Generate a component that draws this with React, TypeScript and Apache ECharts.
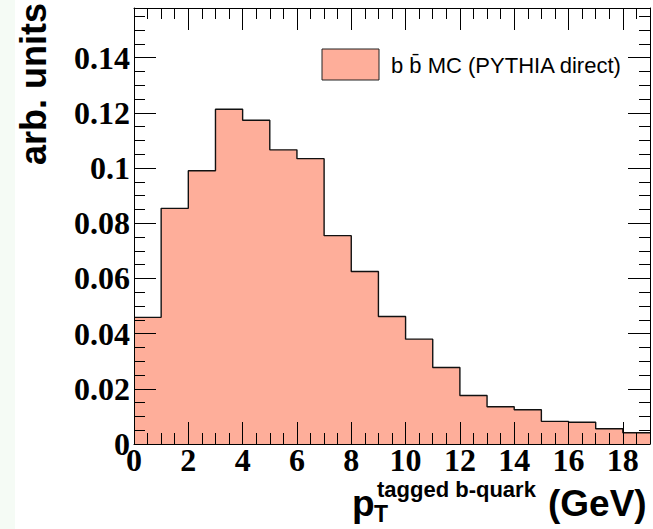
import React, { useEffect, useRef } from "react";
import * as echarts from "echarts";

// Histogram bin lower edges (GeV) and contents (arb. units)
const binEdges = [0, 1, 2, 3, 4, 5, 6, 7, 8, 9, 10, 11, 12, 13, 14, 15, 16, 17, 18, 19];
const binContents = [
  0.0459, 0.0854, 0.099, 0.1213, 0.1173, 0.1066, 0.1034, 0.0755, 0.0625, 0.0462,
  0.038, 0.0277, 0.0176, 0.0135, 0.0124, 0.0082, 0.0079, 0.0055, 0.0041,
];
const xTickLabels = [0, 2, 4, 6, 8, 10, 12, 14, 16, 18];
const yTickLabels = [0, 0.02, 0.04, 0.06, 0.08, 0.1, 0.12, 0.14];
const seriesName = "b b\u0304 MC (PYTHIA direct)";

const X_MIN = 0;
const X_MAX = 19;
const Y_MIN = 0;
const Y_MAX = 0.158;

const FILL = "#feae9a";
const SERIF = "'Liberation Serif', 'Times New Roman', serif";
const SANS = "'Liberation Sans', Arial, Helvetica, sans-serif";

function minorValues(min: number, max: number, step: number, majorStep: number) {
  const out: number[] = [];
  const n = Math.round((max - min) / step);
  for (let i = 0; i <= n; i++) {
    const v = +(min + i * step).toFixed(6);
    const r = v / majorStep;
    if (Math.abs(r - Math.round(r)) > 1e-6) out.push(v);
  }
  return out;
}

export default function App() {
  const ref = useRef<HTMLDivElement>(null);

  useEffect(() => {
    document.body.style.margin = "0";
    if (!ref.current) return;
    const chart = echarts.init(ref.current, undefined, { renderer: "svg" });

    const xMinor = minorValues(X_MIN, X_MAX, 0.5, 2);
    const yMinor = minorValues(Y_MIN, 0.155, 0.005, 0.02);

    const stepData = binEdges.map((e, i) => [e, binContents[Math.min(i, binContents.length - 1)]]);

    const black = { color: "#000", width: 1 };
    const baseX = { type: "value", min: X_MIN, max: X_MAX, splitLine: { show: false }, z: 5 };
    const baseY = { type: "value", min: Y_MIN, max: Y_MAX, splitLine: { show: false }, z: 5 };
    const frameLine = { show: true, onZero: false, lineStyle: black };
    const noLine = { show: false, onZero: false };

    chart.setOption({
      animation: false,
      backgroundColor: "#fff",
      grid: { left: 134, top: 8, right: 3, bottom: 85, containLabel: false },
      xAxis: [
        {
          ...baseX,
          position: "bottom",
          axisLine: frameLine,
          axisTick: { show: true, inside: true, length: 22, customValues: xTickLabels, lineStyle: black },
          axisLabel: {
            show: true,
            customValues: xTickLabels,
            fontFamily: SERIF,
            fontWeight: "bold",
            fontSize: 32,
            color: "#000",
            margin: 0,
          },
        },
        {
          ...baseX,
          position: "bottom",
          axisLine: noLine,
          axisTick: { show: true, inside: true, length: 11, customValues: xMinor, lineStyle: black },
          axisLabel: { show: false },
        },
        {
          ...baseX,
          position: "top",
          axisLine: frameLine,
          axisTick: { show: true, inside: true, length: 22, customValues: xTickLabels, lineStyle: black },
          axisLabel: { show: false },
        },
        {
          ...baseX,
          position: "top",
          axisLine: noLine,
          axisTick: { show: true, inside: true, length: 11, customValues: xMinor, lineStyle: black },
          axisLabel: { show: false },
        },
      ],
      yAxis: [
        {
          ...baseY,
          position: "left",
          axisLine: frameLine,
          axisTick: { show: true, inside: true, length: 22, customValues: yTickLabels, lineStyle: black },
          axisLabel: {
            show: true,
            customValues: yTickLabels,
            fontFamily: SERIF,
            fontWeight: "bold",
            fontSize: 32,
            color: "#000",
            margin: 4,
            formatter: (v: number) => String(+v.toFixed(3)),
          },
        },
        {
          ...baseY,
          position: "left",
          axisLine: noLine,
          axisTick: { show: true, inside: true, length: 11, customValues: yMinor, lineStyle: black },
          axisLabel: { show: false },
        },
        {
          ...baseY,
          position: "right",
          axisLine: frameLine,
          axisTick: { show: true, inside: true, length: 22, customValues: yTickLabels, lineStyle: black },
          axisLabel: { show: false },
        },
        {
          ...baseY,
          position: "right",
          axisLine: noLine,
          axisTick: { show: true, inside: true, length: 11, customValues: yMinor, lineStyle: black },
          axisLabel: { show: false },
        },
      ],
      series: [
        {
          name: seriesName,
          type: "line",
          xAxisIndex: 0,
          yAxisIndex: 0,
          step: "end",
          data: stepData,
          showSymbol: false,
          symbol: "none",
          z: 1,
          lineStyle: { color: "#111", width: 1.4 },
          areaStyle: { color: FILL, opacity: 1, origin: "start" },
        },
      ],
      graphic: [
        { type: "rect", left: 0, top: 0, z: -10, shape: { width: 15, height: 529 }, style: { fill: "#f5fbf5" } },
        {
          type: "rect",
          z: 10,
          shape: { x: 322, y: 49, width: 57, height: 31 },
          style: { fill: FILL, stroke: "#222", lineWidth: 1 },
        },
        {
          type: "text",
          z: 10,
          x: 391,
          y: 65,
          style: { text: seriesName, font: `22px ${SANS}`, fill: "#000", align: "left", verticalAlign: "middle" },
        },
        {
          type: "text",
          z: 10,
          x: 33,
          y: 3,
          rotation: Math.PI / 2,
          style: { text: "arb. units", font: `bold 36px ${SANS}`, fill: "#000", align: "right", verticalAlign: "middle" },
        },
        {
          type: "text",
          z: 10,
          x: 352,
          y: 503,
          style: { text: "p", font: `bold 37px ${SANS}`, fill: "#000", align: "left", verticalAlign: "middle" },
        },
        {
          type: "text",
          z: 10,
          x: 374,
          y: 514,
          style: { text: "T", font: `bold 23px ${SANS}`, fill: "#000", align: "left", verticalAlign: "middle" },
        },
        {
          type: "text",
          z: 10,
          x: 377,
          y: 489,
          style: { text: "tagged b-quark", font: `bold 22px ${SANS}`, fill: "#000", align: "left", verticalAlign: "middle" },
        },
        {
          type: "text",
          z: 10,
          x: 548,
          y: 503,
          style: { text: "(GeV)", font: `bold 37px ${SANS}`, fill: "#000", align: "left", verticalAlign: "middle" },
        },
      ],
    });

    return () => chart.dispose();
  }, []);

  return <div ref={ref} style={{ width: 653, height: 529 }} />;
}
